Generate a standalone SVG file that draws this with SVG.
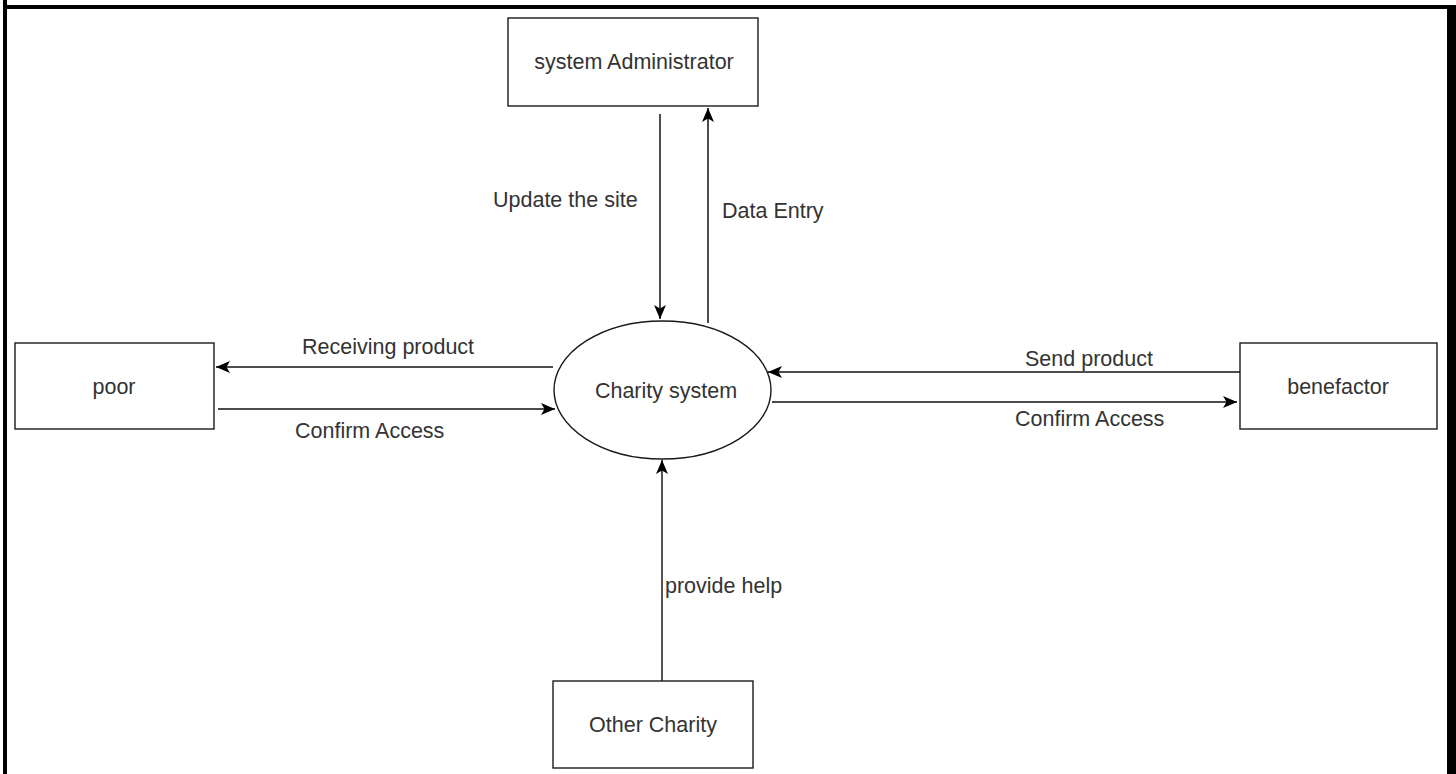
<svg xmlns="http://www.w3.org/2000/svg" width="1456" height="774" viewBox="0 0 1456 774">
  <style>
    .box { fill: #ffffff; stroke: #1a1a1a; stroke-width: 1.4; }
    .lbl { font-family: "Liberation Sans", Arial, sans-serif; font-size: 21.5px; fill: #333333; }
    .mid { text-anchor: middle; }
    .flow { stroke: #111111; stroke-width: 1.5; fill: none; marker-end: url(#arrow); }
  </style>
  <defs>
    <marker id="arrow" viewBox="0 0 14 12" refX="14" refY="6" markerWidth="14" markerHeight="12" markerUnits="userSpaceOnUse" orient="auto">
      <path d="M0,0 L14,6 L0,12 L3.5,6 z" fill="#000000"/>
    </marker>
  </defs>

  <!-- page background and frame -->
  <rect x="0" y="0" width="1456" height="774" fill="#ffffff"/>
  <g id="frame" fill="#000000">
    <rect x="3" y="0" width="4" height="774"/>
    <rect x="4" y="5" width="1452" height="4"/>
    <rect x="1447" y="5" width="9" height="769"/>
  </g>

  <!-- data flows -->
  <g id="connectors">
    <line class="flow" x1="660" y1="114" x2="660" y2="319"/>
    <line class="flow" x1="708" y1="323" x2="708" y2="108"/>
    <line class="flow" x1="553" y1="367" x2="216" y2="367"/>
    <line class="flow" x1="218" y1="409" x2="555" y2="409"/>
    <line class="flow" x1="1240" y1="372" x2="768" y2="372"/>
    <line class="flow" x1="772" y1="402" x2="1237" y2="402"/>
    <line class="flow" x1="662" y1="681" x2="662" y2="460" style="stroke:#555555;stroke-width:2"/>
    <text class="lbl" x="493" y="207">Update the site</text>
    <text class="lbl" x="722" y="218">Data Entry</text>
    <text class="lbl" x="302" y="354">Receiving product</text>
    <text class="lbl" x="295" y="438">Confirm Access</text>
    <text class="lbl" x="1025" y="366">Send product</text>
    <text class="lbl" x="1015" y="426">Confirm Access</text>
    <text class="lbl" x="665" y="593">provide help</text>
  </g>

  <g id="system-administrator">
    <rect class="box" x="508" y="18" width="250" height="88"/>
    <text class="lbl mid" x="634" y="69">system Administrator</text>
  </g>

  <g id="charity-system">
    <ellipse class="box" cx="662.5" cy="390" rx="108.5" ry="69"/>
    <text class="lbl mid" x="666" y="398">Charity system</text>
  </g>

  <g id="poor">
    <rect class="box" x="15" y="343" width="199" height="86"/>
    <text class="lbl mid" x="114" y="394">poor</text>
  </g>

  <g id="benefactor">
    <rect class="box" x="1240" y="343" width="197" height="86"/>
    <text class="lbl mid" x="1338" y="394">benefactor</text>
  </g>

  <g id="other-charity">
    <rect class="box" x="553" y="681" width="200" height="87"/>
    <text class="lbl mid" x="653" y="732">Other Charity</text>
  </g>
</svg>
